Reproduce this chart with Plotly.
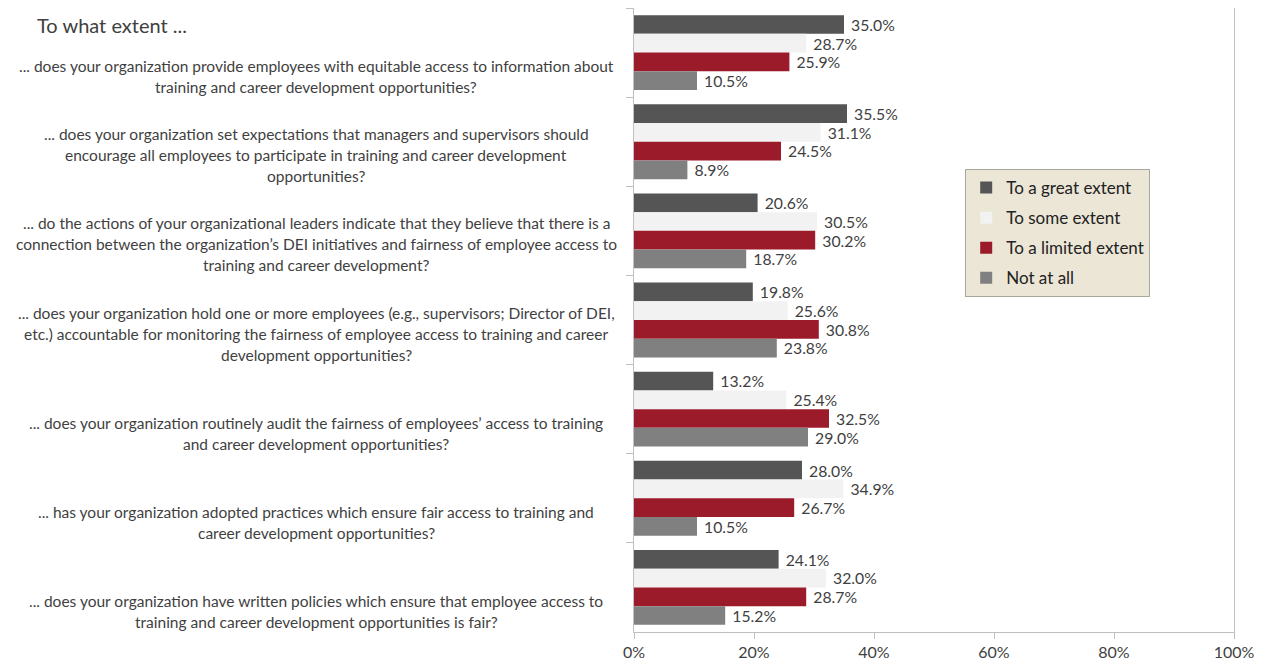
import plotly.graph_objects as go

questions = [
    "... does your organization provide employees with equitable access to information about<br>training and career development opportunities?",
    "... does your organization set expectations that managers and supervisors should<br>encourage all employees to participate in training and career development<br>opportunities?",
    "... do the actions of your organizational leaders indicate that they believe that there is a<br>connection between the organization’s DEI initiatives and fairness of employee access to<br>training and career development?",
    "... does your organization hold one or more employees (e.g., supervisors; Director of DEI,<br>etc.) accountable for monitoring the fairness of employee access to training and career<br>development opportunities?",
    "... does your organization routinely audit the fairness of employees’ access to training<br>and career development opportunities?",
    "... has your organization adopted practices which ensure fair access to training and<br>career development opportunities?",
    "... does your organization have written policies which ensure that employee access to<br>training and career development opportunities is fair?",
]
cat_ids = ["Q1", "Q2", "Q3", "Q4", "Q5", "Q6", "Q7"]

series_names = ["To a great extent", "To some extent", "To a limited extent", "Not at all"]
great = [35.0, 35.5, 20.6, 19.8, 13.2, 28.0, 24.1]
some = [28.7, 31.1, 30.5, 25.6, 25.4, 34.9, 32.0]
limited = [25.9, 24.5, 30.2, 30.8, 32.5, 26.7, 28.7]
notatall = [10.5, 8.9, 18.7, 23.8, 29.0, 10.5, 15.2]

x_ticks = [0, 20, 40, 60, 80, 100]
x_tick_labels = ["0%", "20%", "40%", "60%", "80%", "100%"]

colors = ["#555555", "#f2f2f2", "#9b1b2b", "#808080"]
FONT = "Lato"
TXT = "#3f3f3f"

fig = go.Figure()
for name, vals, col in zip(series_names, [great, some, limited, notatall], colors):
    fig.add_trace(go.Bar(
        y=cat_ids, x=vals, name=name, orientation="h", legendgroup=name,
        marker=dict(color=col, line=dict(width=0)),
        text=[f"\u00a0{v:.1f}%" for v in vals], textposition="outside",
        textfont=dict(family=FONT, size=16, color=TXT),
        cliponaxis=False, hoverinfo="skip",
    ))

# page body has an 8px margin; figure is sized to fill the rest of the window
PL = 626  # plot left inside figure
annotations = []
LINE = 21
for i, q in enumerate(questions):
    lines = q.split("<br>")
    n = len(lines)
    for k, ln in enumerate(lines):
        annotations.append(dict(
            text=ln, xref="paper", yref="y", x=0, y=i + 0.5,
            xanchor="center", yanchor="bottom", xshift=-(634 - 316), yshift=(n - 1 - k) * LINE - 1,
            showarrow=False, font=dict(family=FONT, size=15.5, color=TXT),
        ))
annotations.append(dict(
    text="To what extent ...", xref="paper", yref="paper", x=0, y=1,
    xanchor="left", yanchor="middle", xshift=-(634 - 35), yshift=-17,
    showarrow=False, font=dict(family=FONT, size=20, color="#404040"),
))

fig.update_layout(
    width=1254, height=659,
    margin=dict(l=PL, r=28, t=0, b=35),
    paper_bgcolor="white", plot_bgcolor="white",
    barmode="group", bargap=0.16, bargroupgap=0,
    font=dict(family=FONT, size=14, color=TXT),
    legend=dict(
        x=0.552, y=0.742, xanchor="left", yanchor="top",
        bgcolor="#ebe6d6", bordercolor="#a9a79c", borderwidth=1,
        font=dict(family=FONT, size=17, color="#222222"),
        tracegroupgap=5, itemwidth=30,
    ),
    xaxis=dict(
        range=[0, 100], tickvals=x_ticks, ticktext=x_tick_labels,
        showgrid=False, zeroline=False, showline=True, linecolor="#c0c0c0", linewidth=1,
        mirror=True, ticks="outside", ticklen=6, tickcolor="#c0c0c0",
        tickfont=dict(family=FONT, size=16, color=TXT),
    ),
    yaxis=dict(
        categoryorder="array", categoryarray=cat_ids, range=[6.5, -0.5],
        showticklabels=False, showgrid=False, zeroline=False,
        showline=True, linecolor="#c0c0c0", linewidth=1, mirror=True,
        ticks="outside", tickson="boundaries", ticklen=7, tickcolor="#c0c0c0",
    ),
    annotations=annotations,
    showlegend=True,
)

fig.write_html("out.html")
